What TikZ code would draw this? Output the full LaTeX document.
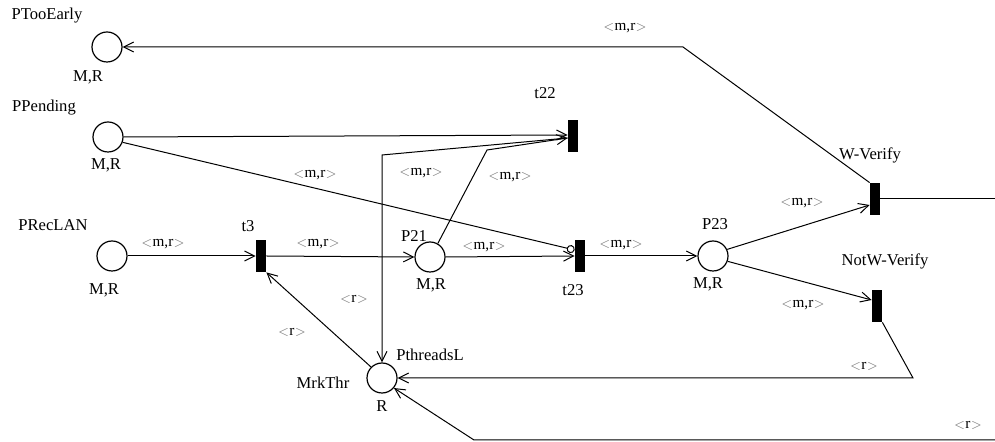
\documentclass[tikz,border=0pt]{standalone}
\usepackage{fontspec}
\setmainfont{Liberation Serif}
\usetikzlibrary{arrows.meta,calc}
\tikzset{
  place/.style={circle,draw,line width=0.6pt,minimum size=15pt,inner sep=0pt},
  trans/.style={rectangle,fill=black,minimum width=5pt,minimum height=16pt,inner sep=0pt},
  lbl/.style={font=\fontsize{8.3}{9}\selectfont,inner sep=0pt},
  albl/.style={font=\fontsize{7.6}{8}\selectfont,inner sep=0pt},
  arc/.style={line width=0.5pt,-{Straight Barb[length=5pt,width=5pt,line width=0.5pt]}},
  plain/.style={line width=0.5pt},
  inhib/.style={line width=0.5pt,-{Circle[open,length=4pt,width=4pt,line width=0.5pt]}}
}
\newcommand{\lbr}{\textcolor{gray}{\fontsize{6.5}{7}\selectfont$<$}}
\newcommand{\rbr}{\textcolor{gray}{\fontsize{6.5}{7}\selectfont$>$}}
\newcommand{\mr}{\lbr m,r\rbr}
\newcommand{\rr}{\lbr r\rbr}
\begin{document}
\begin{tikzpicture}[x=0.5pt,y=-0.5pt]
\useasboundingbox (0,0) rectangle (995,442);
% places
\node[place] (pte) at (107,47) {};
\node[place] (ppe) at (108,137) {};
\node[place] (prl) at (112,256) {};
\node[place] (p21) at (430,257) {};
\node[place] (p23) at (713,256) {};
\node[place] (pth) at (382,378) {};
% transitions
\node[trans] (t3) at (261,256) {};
\node[trans] (t22) at (573,136) {};
\node[trans] (t23) at (580,256) {};
\node[trans] (wv) at (875,199) {};
\node[trans] (nwv) at (877,306) {};
% names
\node[lbl] (lpte) at (47,16) {PTooEarly};
\node[lbl] (mpte) at (88,77) {M,R};
\node[lbl] (lppe) at (44,108) {PPending};
\node[lbl] (mppe) at (106,165) {M,R};
\node[lbl] (lprl) at (53,225) {PRecLAN};
\node[lbl] (mprl) at (104,290) {M,R};
\node[lbl] (lt3) at (248,226) {t3};
\node[lbl] (lp21) at (414,236) {P21};
\node[lbl] (mp21) at (431,285) {M,R};
\node[lbl] (lt22) at (545,93) {t22};
\node[lbl] (lt23) at (573,290) {t23};
\node[lbl] (lp23) at (715,224) {P23};
\node[lbl] (mp23) at (708,284) {M,R};
\node[lbl] (lwv) at (870,155) {W-Verify};
\node[lbl] (lnwv) at (885,261) {NotW-Verify};
\node[lbl] (lpth) at (430,355) {PthreadsL};
\node[lbl] (mkpth) at (323,383) {MrkThr};
\node[lbl] (mpth) at (382,406) {R};
% bend coordinates
\coordinate (c1) at (683,47);
\coordinate (c2) at (487,150);
\coordinate (c3) at (382,155);
\coordinate (c4) at (913,378);
\coordinate (c5) at (995,440);
\coordinate (c6) at (474,440);
\coordinate (c7) at (995,199);
% arcs
\draw[arc] (wv.north west) -- (c1) -- (pte.east);
\draw[plain] (wv.east) -- (c7);
\draw[arc] (ppe.east) -- ([yshift=0.5pt]t22.west);
\draw[inhib] (ppe.-20) -- ([yshift=3pt]t23.west);
\draw[arc] (prl.east) -- (t3.west);
\draw[arc] (t3.east) -- (p21.west);
\draw[arc] (p21.east) -- (t23.west);
\draw[arc] (t23.east) -- (p23.west);
\draw[arc] (p21.60) -- (c2) -- ([yshift=-1pt]t22.west);
\draw[arc] ([yshift=-1pt]t22.west) -- (c3) -- (pth.north);
\draw[arc] (pth.135) -- (t3.south east);
\draw[arc] (p23.25) -- ([yshift=-3pt]wv.west);
\draw[arc] (p23.-20) -- ([yshift=3pt]nwv.west);
\draw[arc] (nwv.south east) -- (c4) -- (pth.east);
\draw[arc] (c5) -- (c6) -- (pth.-40);
% arc labels
\node[albl] (a1) at (625,28) {\mr};
\node[albl] (a2) at (315,175) {\mr};
\node[albl] (a3) at (163,244) {\mr};
\node[albl] (a4) at (318,244) {\mr};
\node[albl] (a5) at (484,247) {\mr};
\node[albl] (a6) at (621,245) {\mr};
\node[albl] (a7) at (421,173) {\mr};
\node[albl] (a8) at (510,177) {\mr};
\node[albl] (a9) at (354,299) {\rr};
\node[albl] (a10) at (292,332) {\rr};
\node[albl] (a11) at (802,203) {\mr};
\node[albl] (a12) at (803,305) {\mr};
\node[albl] (a13) at (864,366) {\rr};
\node[albl] (a14) at (968,425) {\rr};
\end{tikzpicture}
\end{document}
